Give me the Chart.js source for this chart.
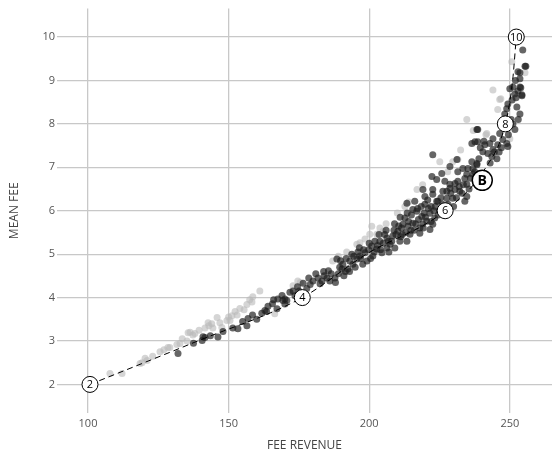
<!DOCTYPE html>
<html>
<head>
<meta charset="utf-8">
<script src="https://cdn.jsdelivr.net/npm/chart.js@4"></script>
<style>
  html, body { margin: 0; padding: 0; background: #fff; }
  #wrap { width: 552px; height: 454px; }
</style>
</head>
<body>
<div id="wrap"><canvas id="feeChart" width="552" height="454"></canvas></div>
<script>
// tick values
const xTicks = [100, 150, 200, 250];
const yTicks = [2, 3, 4, 5, 6, 7, 8, 9, 10];

// dashed reference curve, labelled every second step
const curveX = [100.7, 139.0, 176.2, 199.0, 227.0, 241.5, 248.4, 251.0, 252.3];
const curveY = [2, 3, 4, 5, 6, 7, 8, 9, 10];
const curveLabels = ['2', '', '4', '', '6', '', '8', '', '10'];

// the "B" marker
const bPoint = [240.2, 6.7];

// light grey observations
const lightPoints = [
  [107.8, 2.25], [112.1, 2.25], [118.5, 2.48], [119.2, 2.50], [120.3, 2.60], [121.0, 2.55],
  [123.0, 2.65], [125.6, 2.75], [127.0, 2.80], [128.4, 2.85], [129.1, 2.85], [131.6, 2.92],
  [132.7, 2.94], [133.5, 3.05], [135.2, 3.00], [135.6, 3.19], [136.3, 3.20], [137.3, 3.14],
  [138.0, 3.17], [139.5, 3.25], [141.6, 3.30], [142.7, 3.42], [143.0, 3.35], [144.0, 3.40],
  [144.4, 3.30], [145.9, 3.54], [146.9, 3.42], [147.6, 3.31], [149.4, 3.47], [150.0, 3.55],
  [150.5, 3.47], [151.2, 3.58], [152.3, 3.68], [153.0, 3.60], [154.0, 3.75], [155.5, 3.72],
  [156.5, 3.84], [157.5, 3.95], [158.3, 3.90], [158.6, 4.02], [161.1, 4.15], [166.4, 3.63],
  [172.9, 4.27], [174.6, 4.38], [175.5, 4.35], [187.0, 4.84], [189.0, 4.95], [192.0, 5.05],
  [195.6, 5.23], [196.7, 5.26], [198.5, 5.35], [200.2, 5.46], [200.9, 5.64], [202.7, 5.46],
  [203.8, 5.60], [204.9, 5.53], [206.0, 5.70], [210.0, 5.95], [212.7, 6.10], [214.0, 6.20],
  [217.0, 6.49], [219.0, 6.60], [225.1, 7.13], [229.7, 7.13], [231.5, 7.18], [227.9, 6.90],
  [232.5, 7.40], [234.7, 8.10], [237.0, 7.85], [241.5, 7.75], [241.8, 7.78], [244.0, 8.78],
  [246.4, 8.56], [245.7, 8.33], [246.8, 8.58], [250.0, 7.66], [250.7, 9.43], [255.4, 9.18]
];

// dark observations
const darkPoints = [
  [132.0, 2.71], [137.5, 2.95], [140.6, 3.01], [141.6, 3.08], [140.9, 3.10], [143.5, 3.12],
  [146.2, 3.09], [148.0, 3.22], [151.5, 3.30], [153.3, 3.28], [155.0, 3.45], [156.5, 3.35],
  [156.9, 3.52], [158.5, 3.60], [160.0, 3.50], [161.8, 3.64], [162.9, 3.70], [163.5, 3.68],
  [164.0, 3.80], [165.6, 3.86], [166.0, 3.95], [167.2, 3.74], [167.5, 3.97], [169.0, 4.05],
  [169.3, 3.93], [170.0, 3.85], [170.7, 3.93], [171.8, 4.12], [172.9, 4.15], [173.6, 4.04],
  [170.0, 3.97], [174.5, 4.25], [175.0, 4.15], [176.5, 4.33],
  [177.8, 4.21], [178.5, 4.45], [179.0, 4.30], [180.0, 4.38], [181.0, 4.55], [181.8, 4.45],
  [182.5, 4.32], [183.2, 4.38], [183.8, 4.60], [184.0, 4.50], [185.0, 4.45], [185.5, 4.62],
  [186.0, 4.38], [186.5, 4.55], [187.8, 4.45], [188.0, 4.35], [188.5, 4.89], [189.0, 4.55],
  [189.5, 4.70], [189.8, 4.85], [190.3, 4.66], [190.6, 4.77], [191.0, 4.50], [191.5, 4.60],
  [191.8, 4.90], [192.4, 4.66], [193.0, 4.60], [193.1, 4.84], [193.8, 5.00], [194.2, 4.77],
  [194.5, 4.95], [195.0, 4.70], [195.6, 4.89], [196.0, 5.05], [196.5, 5.15], [196.7, 4.96],
  [197.0, 4.90], [197.7, 4.77], [198.0, 5.10], [198.5, 5.03], [199.2, 4.84], [199.8, 5.10],
  [200.0, 5.25], [200.5, 4.90], [200.9, 5.19], [201.3, 4.96], [201.8, 5.05], [202.0, 5.30],
  [202.7, 5.12], [203.0, 5.20], [203.5, 5.45], [203.8, 5.30], [204.0, 5.10], [204.5, 5.03],
  [205.0, 5.25], [205.5, 5.45], [206.0, 5.55], [206.3, 5.14], [206.3, 5.37], [206.8, 5.30],
  [207.0, 5.05], [207.4, 5.23], [208.0, 5.30], [208.4, 5.42], [208.8, 5.55], [209.0, 5.70],
  [209.1, 5.14], [209.5, 5.45], [210.2, 5.53], [210.5, 5.65], [210.9, 5.30], [211.0, 5.85],
  [211.2, 5.40], [211.5, 5.60], [211.8, 5.45], [212.0, 5.69], [212.7, 5.83], [213.0, 5.50],
  [213.4, 5.30], [213.5, 5.95], [213.8, 5.64], [214.0, 5.75], [214.5, 5.46], [214.8, 5.55],
  [215.0, 5.90], [215.5, 5.71], [216.0, 5.55], [216.2, 6.22], [216.5, 5.70], [216.9, 5.99],
  [217.2, 6.05], [217.5, 5.80], [218.0, 5.60], [218.0, 5.48], [218.5, 6.10], [218.7, 5.87],
  [219.0, 5.70], [219.2, 5.60], [219.5, 5.95], [219.8, 6.15], [220.0, 5.85], [220.5, 5.76],
  [220.8, 6.25], [221.0, 6.05], [221.6, 5.94], [221.6, 5.57], [222.0, 5.75], [222.0, 6.10],
  [222.6, 6.38], [222.6, 5.69], [223.0, 6.00], [223.3, 5.83], [223.5, 6.10], [224.4, 6.22],
  [224.5, 5.90], [225.0, 6.00], [225.5, 6.30], [226.0, 6.15], [226.2, 6.45], [226.5, 6.10],
  [227.6, 6.29], [228.0, 6.15], [229.0, 6.40], [230.0, 6.10], [231.0, 6.30],
  [213.4, 6.17], [215.5, 6.03], [219.1, 6.49], [219.8, 6.33], [224.0, 6.22], [227.6, 6.45],
  [228.7, 6.61], [229.7, 6.29], [230.5, 6.49], [231.5, 6.68], [232.0, 6.55], [233.0, 6.40],
  [233.5, 6.60], [234.0, 6.22], [234.7, 6.84], [234.7, 6.61], [235.5, 6.50], [236.0, 6.75],
  [236.9, 6.97], [237.5, 6.90], [238.3, 7.06], [233.3, 6.97], [231.2, 7.18], [228.7, 7.02],
  [222.6, 7.29], [225.8, 6.86], [222.3, 6.79], [224.0, 6.72], [222.6, 6.49], [226.9, 6.68],
  [228.7, 6.52], [230.5, 6.63], [231.5, 6.90], [232.2, 6.45], [234.0, 6.74], [234.7, 6.33],
  [235.1, 6.97], [236.5, 7.13], [236.9, 6.84], [238.3, 7.09], [239.0, 7.20], [239.5, 7.45],
  [236.5, 7.55], [237.6, 7.59], [238.6, 7.59], [238.6, 7.87], [240.4, 7.36], [240.8, 7.60],
  [241.1, 7.52], [242.2, 7.32], [242.9, 7.55], [243.0, 7.10], [243.6, 7.25], [244.0, 7.41],
  [244.5, 7.35], [245.4, 7.20], [245.7, 7.52], [246.2, 7.35], [246.4, 7.78], [247.0, 7.45],
  [247.5, 7.64], [248.0, 7.90], [248.9, 7.55], [249.3, 7.48], [249.5, 7.75], [250.5, 8.10],
  [248.9, 8.35], [248.2, 8.23], [249.3, 8.46], [252.5, 8.39], [253.6, 8.23], [253.0, 8.10],
  [251.8, 7.87], [251.1, 8.00], [247.2, 8.00], [250.0, 8.81], [250.8, 8.55], [251.1, 8.85],
  [251.8, 8.69], [252.2, 8.60], [252.0, 9.00], [253.6, 8.85], [254.3, 8.67], [252.9, 9.20],
  [253.6, 9.04], [255.4, 9.33], [254.6, 9.70], [255.7, 9.33], [253.6, 9.18], [253.9, 8.83],
  [252.9, 8.76], [254.3, 8.65], [244.0, 7.66], [238.3, 7.87]
];

const toXY = pts => pts.map(p => ({ x: p[0], y: p[1] }));

// writes the step numbers and the B into their circles
const markerText = {
  id: 'markerText',
  afterDatasetsDraw(chart) {
    const c = chart.ctx;
    c.save();
    c.textAlign = 'center';
    c.textBaseline = 'middle';
    c.fillStyle = '#000';
    c.font = '11px "Open Sans"';
    chart.getDatasetMeta(0).data.forEach((el, i) => {
      if (curveLabels[i]) c.fillText(curveLabels[i], el.x, el.y + 0.5);
    });
    const b = chart.getDatasetMeta(1).data[0];
    c.font = 'bold 14px "Open Sans"';
    c.fillText('B', b.x, b.y + 0.5);
    c.restore();
  }
};

new Chart(document.getElementById('feeChart'), {
  type: 'scatter',
  data: {
    datasets: [
      {
        data: curveX.map((x, i) => ({ x, y: curveY[i] })),
        showLine: true,
        borderColor: '#000',
        borderWidth: 1,
        borderDash: [6, 4],
        cubicInterpolationMode: 'monotone',
        pointRadius: curveLabels.map(l => l ? 8 : 0),
        pointBackgroundColor: '#fff',
        pointBorderColor: '#000',
        pointBorderWidth: 1
      },
      {
        data: [{ x: bPoint[0], y: bPoint[1] }],
        order: -1,
        pointRadius: 10,
        pointBackgroundColor: '#fff',
        pointBorderColor: '#000',
        pointBorderWidth: 1.5
      },
      {
        data: toXY(darkPoints),
        pointRadius: 3.5,
        pointBorderWidth: 0,
        pointBackgroundColor: 'rgba(30,30,30,0.68)'
      },
      {
        data: toXY(lightPoints),
        pointRadius: 3.5,
        pointBorderWidth: 0,
        pointBackgroundColor: 'rgba(185,185,185,0.6)'
      }
    ]
  },
  options: {
    responsive: false,
    animation: false,
    layout: { autoPadding: false, padding: { top: 7, right: 0, left: 0, bottom: 0 } },
    plugins: { legend: { display: false }, tooltip: { enabled: false } },
    scales: {
      x: {
        min: 88.97,
        max: 265,
        border: { display: false },
        grid: { color: '#c8c8c8', lineWidth: 1.3, drawTicks: false },
        afterBuildTicks: s => { s.ticks = xTicks.map(v => ({ value: v })); },
        afterFit: s => { s.height = 41; },
        ticks: { padding: 4, color: '#555', font: { family: 'Open Sans', size: 11 } },
        title: {
          display: true, text: 'FEE REVENUE', color: '#444',
          font: { family: 'Open Sans', size: 12 }, padding: { top: 0, bottom: 1 }
        }
      },
      y: {
        min: 1.342,
        max: 10.655,
        border: { display: false },
        grid: { color: '#c8c8c8', lineWidth: 1.3, drawTicks: false },
        afterBuildTicks: s => { s.ticks = yTicks.map(v => ({ value: v })); },
        afterFit: s => { s.width = 57; },
        ticks: { padding: 2, color: '#555', font: { family: 'Open Sans', size: 11 } },
        title: {
          display: true, text: 'MEAN FEE', color: '#444',
          font: { family: 'Open Sans', size: 12 }, padding: { top: 7, bottom: 0 }
        }
      }
    }
  },
  plugins: [markerText]
});
</script>
</body>
</html>
